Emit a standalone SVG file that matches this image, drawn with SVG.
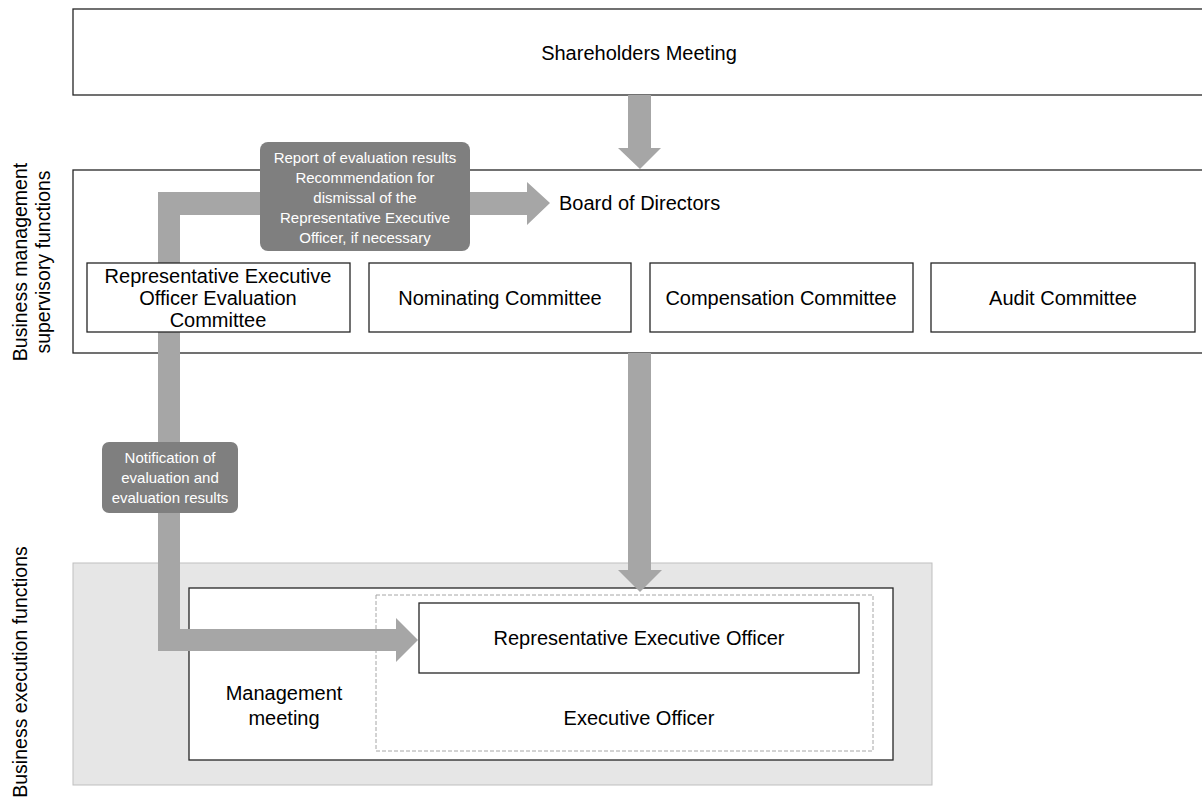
<svg xmlns="http://www.w3.org/2000/svg" width="1202" height="803" viewBox="0 0 1202 803">
<style>
.box{fill:#fff;stroke:#262626;stroke-width:1.3}
.t{font-family:"Liberation Sans",Arial,sans-serif;font-size:20px;fill:#000;text-anchor:middle}
.side{font-family:"Liberation Sans",Arial,sans-serif;font-size:19.5px;fill:#000;text-anchor:middle}
.arr{fill:#a6a6a6}
.lbl{fill:#7f7f7f}
.lt{font-family:"Liberation Sans",Arial,sans-serif;font-size:15px;fill:#fff;text-anchor:middle}
</style>
<rect width="1202" height="803" fill="#fff"/>
<g id="exec-area">
<rect x="73" y="563" width="859" height="222" fill="#e6e6e6" stroke="#bfbfbf" stroke-width="1"/>
</g>
<g id="shareholders">
<rect class="box" x="73" y="9" width="1140" height="86"/>
<text class="t" x="639" y="60">Shareholders Meeting</text>
</g>
<g id="board">
<rect class="box" x="73" y="170" width="1140" height="183"/>
<text class="t" x="559" y="210" style="text-anchor:start">Board of Directors</text>
</g>
<g id="management-meeting">
<rect class="box" x="189" y="588" width="704" height="172"/>
<text class="t" x="284" y="700">Management</text>
<text class="t" x="284" y="725">meeting</text>
</g>
<g id="executive-officer">
<rect x="376" y="595" width="497" height="156" fill="none" stroke="#a6a6a6" stroke-width="1" stroke-dasharray="4,2"/>
<text class="t" x="639" y="725">Executive Officer</text>
</g>
<g id="connectors">
<polygon class="arr" points="628,95 651,95 651,148 661,148 640,169 618,148 628,148"/>
<polygon class="arr" points="628,353 651,353 651,570 662,570 640,592 618,570 628,570"/>
<polygon class="arr" points="158,300 158,192 527,192 527,182 550,203 527,225 527,215 180,215 180,300"/>
<polygon class="arr" points="158,300 180,300 180,629 396,629 396,618 418,640 396,662 396,651 158,651"/>
</g>
<g id="rep-eval-committee">
<rect class="box" x="87" y="263" width="263" height="69"/>
<text class="t" x="218" y="283">Representative Executive</text>
<text class="t" x="218" y="305">Officer Evaluation</text>
<text class="t" x="218" y="327">Committee</text>
</g>
<g id="nominating">
<rect class="box" x="369" y="263" width="262" height="69"/>
<text class="t" x="500" y="305">Nominating Committee</text>
</g>
<g id="compensation">
<rect class="box" x="650" y="263" width="263" height="69"/>
<text class="t" x="781" y="305">Compensation Committee</text>
</g>
<g id="audit">
<rect class="box" x="931" y="263" width="264" height="69"/>
<text class="t" x="1063" y="305">Audit Committee</text>
</g>
<g id="label-report">
<rect class="lbl" x="260" y="142" width="210" height="109" rx="8"/>
<text class="lt" x="365" y="163">Report of evaluation results</text>
<text class="lt" x="365" y="183">Recommendation for</text>
<text class="lt" x="365" y="203">dismissal of the</text>
<text class="lt" x="365" y="223">Representative Executive</text>
<text class="lt" x="365" y="243">Officer, if necessary</text>
</g>
<g id="label-notification">
<rect class="lbl" x="102" y="442" width="136" height="71" rx="7"/>
<text class="lt" x="170" y="463">Notification of</text>
<text class="lt" x="170" y="483">evaluation and</text>
<text class="lt" x="170" y="503">evaluation results</text>
</g>
<g id="rep-exec-officer">
<rect class="box" x="419" y="603" width="440" height="70"/>
<text class="t" x="639" y="645">Representative Executive Officer</text>
</g>
<g id="side-labels">
<text class="side" transform="translate(27,262) rotate(-90)">Business management</text>
<text class="side" transform="translate(50,262) rotate(-90)">supervisory functions</text>
<text class="side" transform="translate(27,672) rotate(-90)">Business execution functions</text>
</g>
</svg>
